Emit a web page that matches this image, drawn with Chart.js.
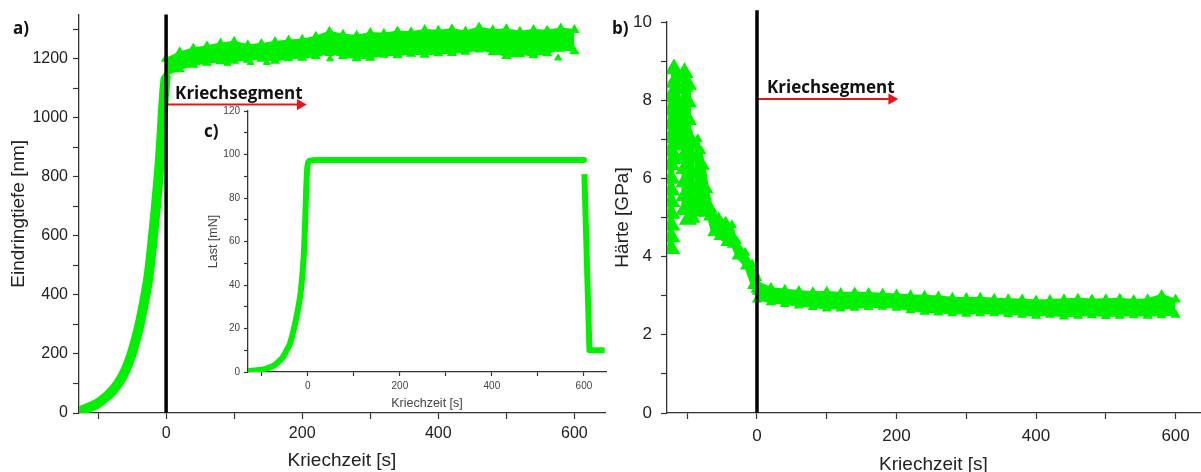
<!DOCTYPE html>
<html>
<head>
<meta charset="utf-8">
<script src="https://cdn.jsdelivr.net/npm/chart.js@4.4.1/dist/chart.umd.min.js"></script>
<style>
  body { margin: 0; background: #fff; width: 1201px; height: 472px; overflow: hidden; position: relative; }
  canvas { position: absolute; }
  .lbl { position: absolute; font: bold 17px "Open Sans", sans-serif; color: #111; }
</style>
</head>
<body>
<canvas id="depthChart" width="610" height="472" style="left:0;top:0"></canvas>
<canvas id="hardChart" width="601" height="472" style="left:600px;top:0"></canvas>
<canvas id="loadChart" width="420" height="312" style="left:200px;top:100px"></canvas>
<div class="lbl" style="left:13px;top:16px">a)</div>
<div class="lbl" style="left:612px;top:16px">b)</div>
<div class="lbl" style="left:204px;top:119px">c)</div>
<script>
// a) Eindringtiefe: loading part before creep
const loadT = [-128, -120, -112, -104, -96, -88, -80, -72, -64, -56, -48, -40, -32, -26, -21, -17, -13, -10, -7, -5, -3, -1];
const loadDepth = [5, 12, 20, 28, 40, 55, 72, 95, 125, 165, 220, 290, 380, 460, 560, 650, 750, 830, 930, 1010, 1080, 1130];

// creep segment, band upper / lower edge (same time grid for a and b)
const creepT = [0, 20, 40, 60, 80, 100, 120, 140, 160, 180, 200, 220, 240, 260, 280, 300,
  320, 340, 360, 380, 400, 420, 440, 460, 480, 500, 520, 540, 560, 580, 600];
const depthHi = [1200, 1222, 1235, 1243, 1252, 1258, 1246, 1250, 1257, 1262, 1265, 1275, 1292, 1282, 1278, 1288,
  1285, 1293, 1290, 1298, 1295, 1300, 1293, 1306, 1297, 1300, 1292, 1298, 1295, 1303, 1298];
const depthLo = [1145, 1165, 1180, 1187, 1192, 1194, 1197, 1200, 1194, 1202, 1204, 1209, 1220, 1209, 1202, 1204,
  1214, 1212, 1217, 1214, 1219, 1220, 1224, 1232, 1222, 1210, 1216, 1212, 1219, 1234, 1226];
const depthOutT = [90, 124, 148, 241, 300, 510, 576];
const depthOutV = [1185, 1188, 1188, 1200, 1204, 1214, 1203];

// b) Härte before creep: scattered columns
const hardPreT = [-123, -123, -123, -123, -123, -123, -123, -123, -123, -123, -123, -123, -123,
  -119, -119, -119, -119, -119, -119, -119, -119,
  -114, -114, -114, -114, -114, -114,
  -109, -109, -109, -109,
  -104, -104, -104, -104, -104, -104, -104, -104, -104, -104, -104,
  -99, -99, -99, -99, -99, -99, -99, -99, -99, -99,
  -94, -94, -94, -94, -94, -94];
const hardPreV = [4.2, 4.5, 4.8, 5.1, 5.4, 5.7, 6.0, 6.35, 6.7, 7.05, 7.4, 7.75, 8.1,
  6.5, 6.85, 7.2, 7.5, 7.8, 8.1, 8.45, 8.8,
  6.9, 7.25, 7.6, 7.95, 8.3, 8.6,
  6.9, 7.2, 7.5, 7.8,
  5.2, 5.55, 5.9, 6.25, 6.6, 6.95, 7.3, 7.65, 8.0, 8.35, 8.7,
  4.95, 5.25, 5.6, 5.95, 6.3, 6.7, 7.1, 7.5, 7.95, 8.4,
  5.0, 5.35, 5.75, 6.15, 6.55, 6.9];
// b) Härte decreasing band before creep
const hardDropT = [-90, -85, -80, -75, -70, -64, -55, -45, -36, -29, -17, -7, -2, 0];
const hardDropHi = [6.9, 7.0, 6.7, 6.3, 5.7, 5.2, 5.0, 4.9, 4.8, 4.4, 4.1, 3.8, 3.55, 3.45];
const hardDropLo = [5.3, 5.1, 5.1, 5.1, 5.0, 4.6, 4.5, 4.35, 4.3, 4.0, 3.75, 3.25, 3.15, 3.1];
// b) Härte creep band
const hardHi = [3.35, 3.2, 3.15, 3.12, 3.09, 3.1, 3.07, 3.08, 3.07, 3.05, 3.03, 3.01, 3.0, 2.98, 2.95, 2.94,
  2.95, 2.92, 2.91, 2.9, 2.88, 2.89, 2.91, 2.92, 2.9, 2.91, 2.92, 2.89, 2.91, 3.02, 2.9];
const hardLo = [2.9, 2.83, 2.79, 2.75, 2.71, 2.67, 2.67, 2.69, 2.71, 2.72, 2.69, 2.63, 2.59, 2.57, 2.55, 2.54,
  2.55, 2.55, 2.53, 2.51, 2.49, 2.51, 2.47, 2.49, 2.5, 2.48, 2.49, 2.5, 2.49, 2.5, 2.51];

// c) Last
const lastT = [-130, -110, -90, -75, -65, -54, -46, -39, -33, -26, -20, -15, -9, -6, -3.6, -1.5, 1, 5, 20, 600];
const lastV = [0.5, 0.8, 1.6, 2.8, 4.5, 6.9, 10, 13, 17.5, 24, 30.5, 37.6, 53, 68, 83.5, 93, 96.5, 97.2, 97.5, 97.5];
const unloadT = [601, 612, 645];
const unloadV = [91, 10, 10];

// ticks
const depthYTicks = [0, 100, 200, 300, 400, 500, 600, 700, 800, 900, 1000, 1100, 1200, 1300];
const timeTicks = [-100, 0, 100, 200, 300, 400, 500, 600];
const hardYTicks = [0, 1, 2, 3, 4, 5, 6, 7, 8, 9, 10];
const lastYTicks = [0, 10, 20, 30, 40, 50, 60, 70, 80, 90, 100, 110, 120];

const GREEN = '#00f000';
const RED = '#e8141c';
Chart.defaults.font.family = '"Liberation Sans", Arial, sans-serif';
Chart.defaults.color = '#222';

const pts = (xs, ys) => xs.map((x, i) => ({ x: x, y: ys[i] }));
const setTicks = vals => scale => { scale.ticks = vals.map(v => ({ value: v })); };
const every = n => v => (Math.round(v) % n === 0 ? v : '');

const kriechLabel = {
  id: 'kriechLabel',
  afterDatasetsDraw(chart, args, opts) {
    if (!opts || opts.y === undefined) return;
    const ctx = chart.ctx;
    ctx.save();
    ctx.font = 'bold 17px "Open Sans", sans-serif';
    ctx.fillStyle = '#111';
    ctx.textBaseline = 'alphabetic';
    ctx.fillText('Kriechsegment', chart.scales.x.getPixelForValue(0) + opts.dx, chart.scales.y.getPixelForValue(opts.y) - opts.dy);
    ctx.restore();
  }
};

function tri(data, r) {
  return {
    type: 'scatter', data: data, order: 2,
    pointStyle: 'triangle', pointRadius: r, pointHoverRadius: r,
    backgroundColor: GREEN, borderColor: GREEN, borderWidth: 1
  };
}
// one stacked column of triangles per time value
function columns(xs, ys) {
  const groups = {};
  xs.forEach((x, i) => { (groups[x] = groups[x] || []).push({ x: x, y: ys[i] }); });
  return Object.keys(groups).map(k => ({
    type: 'line', data: groups[k], order: 2, borderColor: GREEN, borderWidth: 6,
    pointStyle: 'triangle', pointRadius: 4.5, pointBackgroundColor: GREEN, pointBorderColor: GREEN
  }));
}
function band(hi, lo, r) {
  return [
    { type: 'line', data: hi, order: 2, borderColor: GREEN, borderWidth: 2, fill: false,
      pointStyle: 'triangle', pointRadius: r, pointBackgroundColor: GREEN, pointBorderColor: GREEN },
    { type: 'line', data: lo, order: 2, borderColor: GREEN, borderWidth: 2, fill: '-1', backgroundColor: GREEN,
      pointStyle: 'triangle', pointRadius: r, pointBackgroundColor: GREEN, pointBorderColor: GREEN }
  ];
}
function vline(y0, y1) {
  return { type: 'line', data: [{ x: 0, y: y0 }, { x: 0, y: y1 }], order: 0, clip: false,
    borderColor: '#000', borderWidth: 3.5, pointRadius: 0 };
}
function arrow(x1, y) {
  return { type: 'line', data: [{ x: 0, y: y }, { x: x1, y: y }], order: 0,
    borderColor: RED, borderWidth: 2, pointRadius: [0, 4.5], pointStyle: 'triangle', rotation: 90,
    pointBackgroundColor: RED, pointBorderColor: RED };
}
function axes(o) {
  return {
    x: {
      type: 'linear', min: o.xmin, max: o.xmax,
      afterBuildTicks: setTicks(timeTicks),
      afterFit: s => { s.height = o.xh; },
      grid: { drawOnChartArea: false, tickLength: o.tl, color: '#333', tickWidth: 1.2 },
      border: { color: '#333', width: 1.3 },
      ticks: { callback: every(200), maxRotation: 0, autoSkip: false, padding: o.xpad, font: { size: o.fs }, color: o.tc },
      title: { display: true, text: 'Kriechzeit [s]', font: { size: o.ts }, color: o.tc, padding: { top: 0, bottom: o.xtp } }
    },
    y: {
      type: 'linear', min: o.ymin, max: o.ymax,
      afterBuildTicks: setTicks(o.yticks),
      afterFit: s => { s.width = o.yw; },
      grid: { drawOnChartArea: false, tickLength: o.tl, color: '#333', tickWidth: 1.2 },
      border: { color: '#333', width: 1.3 },
      ticks: { callback: every(o.ystep), autoSkip: false, padding: o.ypad, font: { size: o.fs }, color: o.tc },
      title: { display: true, text: o.ytitle, font: { size: o.ts }, color: o.tc, padding: { top: o.ytp, bottom: 0 } }
    }
  };
}
function baseOptions(pad, scales, label) {
  return {
    responsive: false, animation: false, devicePixelRatio: 1,
    layout: { padding: pad, autoPadding: false },
    plugins: { legend: { display: false }, tooltip: { enabled: false }, kriechLabel: label },
    scales: scales
  };
}

new Chart(document.getElementById('depthChart'), {
  data: {
    datasets: [
      vline(0, 1350),
      arrow(197, 1045),
      { type: 'line', data: pts(loadT, loadDepth), order: 2, borderColor: GREEN, borderWidth: 10,
        cubicInterpolationMode: 'monotone', borderCapStyle: 'round', pointRadius: 0 },
      ...band(pts(creepT, depthHi), pts(creepT, depthLo), 4),
      tri(pts(depthOutT, depthOutV), 4)
    ]
  },
  options: baseOptions({ left: 0, right: 5, top: 12, bottom: 0 },
    axes({ xmin: -128, xmax: 645, ymin: 0, ymax: 1350, yticks: depthYTicks, ystep: 200,
      xh: 59, yw: 79, tl: 6, xpad: 5, ypad: 5, fs: 16, ts: 19, tc: '#222', xtp: 0, ytp: 7,
      ytitle: 'Eindringtiefe [nm]' }),
    { y: 1045, dx: 9, dy: 6 }),
  plugins: [kriechLabel]
});

new Chart(document.getElementById('hardChart'), {
  data: {
    datasets: [
      vline(0, 10.3),
      arrow(193, 8.03),
      ...columns(hardPreT, hardPreV),
      ...band(pts(hardDropT, hardDropHi), pts(hardDropT, hardDropLo), 4),
      ...band(pts(creepT, hardHi), pts(creepT, hardLo), 4)
    ]
  },
  options: baseOptions({ left: 0, right: 1, top: 22, bottom: 0 },
    axes({ xmin: -129, xmax: 635, ymin: 0, ymax: 10, yticks: hardYTicks, ystep: 2,
      xh: 59, yw: 67, tl: 6, xpad: 7, ypad: 9, fs: 17, ts: 19, tc: '#222', xtp: -4, ytp: 11,
      ytitle: 'Härte [GPa]' }),
    { y: 8.03, dx: 10, dy: 6 }),
  plugins: [kriechLabel]
});

new Chart(document.getElementById('loadChart'), {
  data: {
    datasets: [
      { type: 'line', data: pts(lastT, lastV), borderColor: GREEN, borderWidth: 6, pointRadius: 0,
        cubicInterpolationMode: 'monotone', borderJoinStyle: 'round', borderCapStyle: 'round' },
      { type: 'line', data: pts(unloadT, unloadV), borderColor: GREEN, borderWidth: 6, pointRadius: 0,
        borderJoinStyle: 'round' }
    ]
  },
  options: baseOptions({ left: 0, right: 14, top: 11, bottom: 0 },
    axes({ xmin: -130, xmax: 648, ymin: 0, ymax: 120, yticks: lastYTicks, ystep: 20,
      xh: 40, yw: 48, tl: 4, xpad: 4, ypad: 4, fs: 10, ts: 12.5, tc: '#444', xtp: 1, ytp: 6,
      ytitle: 'Last [mN]' }),
    {})
});
</script>
</body>
</html>
